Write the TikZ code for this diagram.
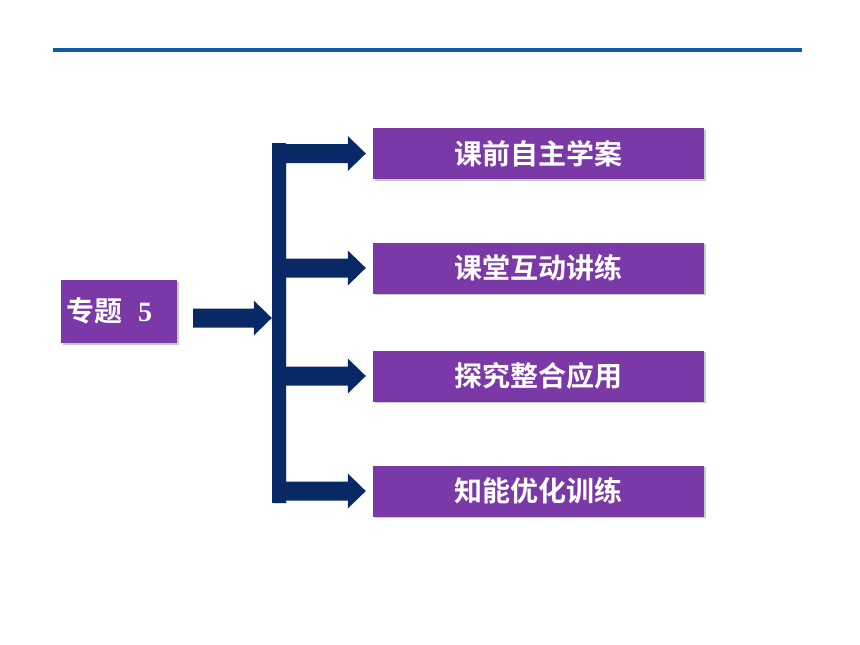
\documentclass[tikz,border=0pt]{standalone}
\usepackage{fontspec}
\setmainfont{Liberation Serif}
\newfontfamily\cjk{Noto Sans CJK SC}[BoldFont={Noto Sans CJK SC Bold}]
\usetikzlibrary{calc,shadows}
\definecolor{navy}{RGB}{8,40,102}
\definecolor{purp}{RGB}{123,57,168}
\definecolor{topblue}{RGB}{12,92,172}
\tikzset{
  box/.style={rectangle, fill=purp, inner sep=0pt, text=white,
    drop shadow={shadow xshift=1.5pt, shadow yshift=-1.5pt, opacity=0.35, fill=black!60}},
  rbox/.style={box, minimum width=331pt, minimum height=51pt,
    font=\cjk\bfseries\fontsize{28}{32}\selectfont},
  fat/.style={to path={($(\tikztostart)+(0,9.5)$) -- ($(\tikztotarget)+(-18,9.5)$)
    -- ($(\tikztotarget)+(-18,17.5)$) -- (\tikztotarget) -- ($(\tikztotarget)+(-18,-17.5)$)
    -- ($(\tikztotarget)+(-18,-9.5)$) -- ($(\tikztostart)+(0,-9.5)$) -- cycle}},
  arr/.style={fill=navy, fat}
}
\begin{document}
\begin{tikzpicture}[x=1pt,y=-1pt]
\useasboundingbox (0,0) rectangle (860,645);
% top rule
\coordinate (rl) at (53,50);
\coordinate (rr) at (802,50);
\draw[topblue, line width=4pt] (rl) -- (rr);
% left box
\node[box, minimum width=116pt, minimum height=63pt] (topic) at (119,311.5) {};
\node[anchor=west, text=white, inner sep=0pt] (topictxt) at (66,311) {{\cjk\bfseries\fontsize{28}{32}\selectfont 专题}\hspace{16pt}{\bfseries\fontsize{28}{32}\selectfont 5}};
% vertical bar
\node[rectangle, fill=navy, minimum width=14pt, minimum height=360pt, inner sep=0pt,
  drop shadow={shadow xshift=1pt, shadow yshift=-1pt, opacity=0.25, fill=black!60}] (bar) at (279,323) {};
% right boxes
\node[rbox] (b1) at (538.5,153.5) {课前自主学案};
\node[rbox] (b2) at (538.5,268) {课堂互动讲练};
\node[rbox] (b3) at (538.5,376) {探究整合应用};
\node[rbox] (b4) at (538.5,491) {知能优化训练};
% main arrow
\coordinate (ms) at (193,318);
\coordinate (mt) at (bar.west |- ms);
\fill[arr] (ms) to (mt);
% branch arrows
\foreach \b in {b1,b2,b3,b4}{
  \coordinate (s\b) at (bar.east |- \b.west);
  \coordinate (t\b) at ($(\b.west)+(-7,0)$);
  \fill[arr] (s\b) to (t\b);
}
\end{tikzpicture}
\end{document}
